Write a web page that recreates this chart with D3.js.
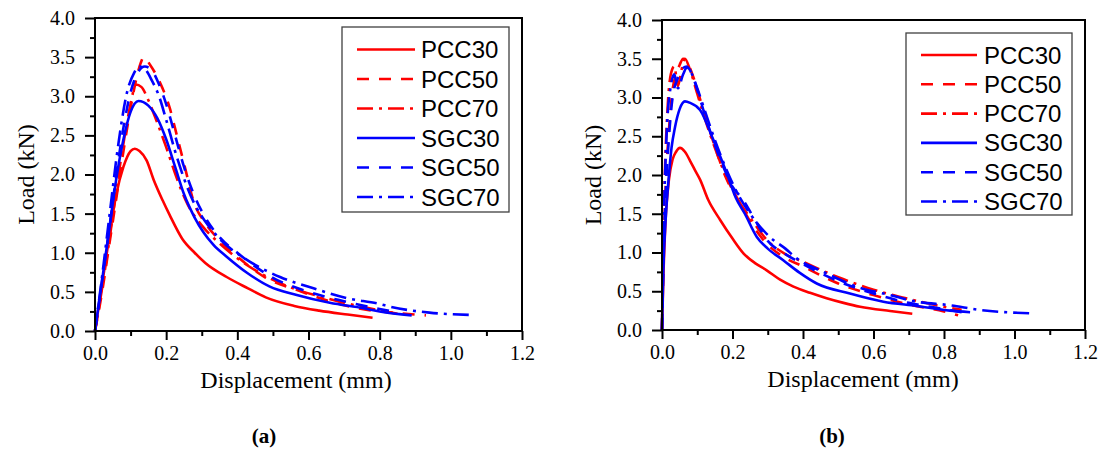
<!DOCTYPE html>
<html>
<head>
  <title>Load-displacement curves</title>
  <script src="https://d3js.org/d3.v7.min.js"></script>
  <style>
    body { margin: 0; background: #fff; }
  </style>
</head>
<body>
<svg id="chart" width="1102" height="450"></svg>
<script>

// ---- data ----
const seriesNames = ["PCC30", "PCC50", "PCC70", "SGC30", "SGC50", "SGC70"];
const xTicks = [0, 0.2, 0.4, 0.6, 0.8, 1.0, 1.2];
const yTicks = [0, 0.5, 1.0, 1.5, 2.0, 2.5, 3.0, 3.5, 4.0];

// panel (a)
const pcc30A = [[0,0],[0.02,0.6],[0.04,1.2],[0.06,1.75],[0.08,2.1],[0.1,2.3],[0.112,2.33],[0.125,2.3],[0.145,2.18],[0.165,1.93],[0.19,1.67],[0.21,1.48],[0.245,1.18],[0.28,1.0],[0.31,0.87],[0.37,0.69],[0.43,0.545],[0.48,0.43],[0.56,0.32],[0.63,0.26],[0.71,0.21],[0.78,0.17]];
const pcc50A = [[0,0],[0.02,0.5],[0.04,1.1],[0.06,1.7],[0.08,2.3],[0.1,2.85],[0.115,3.2],[0.128,3.42],[0.137,3.5],[0.155,3.4],[0.18,3.2],[0.21,2.85],[0.23,2.5],[0.255,2.05],[0.276,1.67],[0.31,1.38],[0.35,1.16],[0.4,0.95],[0.48,0.68],[0.57,0.52],[0.66,0.38],[0.75,0.28],[0.85,0.23],[0.93,0.2]];
const pcc70A = [[0,0],[0.02,0.55],[0.04,1.15],[0.06,1.8],[0.08,2.4],[0.1,2.9],[0.115,3.15],[0.13,3.12],[0.15,2.95],[0.17,2.72],[0.2,2.35],[0.23,1.95],[0.26,1.62],[0.3,1.35],[0.35,1.12],[0.4,0.93],[0.48,0.7],[0.56,0.54],[0.65,0.42],[0.74,0.32],[0.85,0.22]];
const sgc30A = [[0,0],[0.02,0.65],[0.04,1.3],[0.06,1.95],[0.08,2.45],[0.1,2.8],[0.122,2.94],[0.15,2.88],[0.175,2.72],[0.2,2.45],[0.225,2.1],[0.25,1.75],[0.28,1.45],[0.333,1.1],[0.37,0.95],[0.427,0.745],[0.49,0.57],[0.567,0.46],[0.66,0.36],[0.755,0.29],[0.8,0.25],[0.89,0.2]];
const sgc50A = [[0,0],[0.02,0.65],[0.04,1.3],[0.06,2.0],[0.08,2.6],[0.1,3.05],[0.12,3.3],[0.14,3.38],[0.16,3.33],[0.18,3.15],[0.2,2.9],[0.225,2.5],[0.25,2.1],[0.28,1.72],[0.31,1.45],[0.35,1.2],[0.4,1.0],[0.5,0.68],[0.6,0.5],[0.7,0.38],[0.8,0.28],[0.85,0.24]];
const sgc70A = [[0,0],[0.02,0.7],[0.04,1.45],[0.066,2.4],[0.09,3.05],[0.11,3.3],[0.125,3.38],[0.14,3.35],[0.16,3.2],[0.18,3.0],[0.2,2.7],[0.225,2.3],[0.25,1.95],[0.28,1.62],[0.31,1.4],[0.35,1.18],[0.427,0.91],[0.52,0.69],[0.614,0.545],[0.708,0.42],[0.8,0.345],[0.83,0.31],[0.94,0.235],[1.055,0.205]];

// panel (b)
const pcc30B = [[0,0],[0.004,0.7],[0.01,1.4],[0.02,1.95],[0.03,2.2],[0.04,2.3],[0.051,2.35],[0.065,2.3],[0.08,2.18],[0.095,2.05],[0.108,1.94],[0.131,1.68],[0.165,1.42],[0.2,1.18],[0.231,0.99],[0.265,0.86],[0.297,0.77],[0.335,0.65],[0.373,0.56],[0.42,0.48],[0.467,0.41],[0.515,0.35],[0.562,0.3],[0.647,0.245],[0.71,0.21]];
const pcc50B = [[0,0],[0.004,0.9],[0.01,1.8],[0.02,2.6],[0.03,3.1],[0.04,3.3],[0.05,3.42],[0.06,3.5],[0.075,3.42],[0.09,3.25],[0.11,2.95],[0.13,2.65],[0.155,2.3],[0.18,1.98],[0.216,1.68],[0.25,1.4],[0.3,1.1],[0.35,0.93],[0.4,0.82],[0.5,0.6],[0.6,0.45],[0.7,0.33],[0.8,0.24],[0.84,0.19]];
const pcc70B = [[0,0],[0.003,1.0],[0.008,2.0],[0.015,2.8],[0.025,3.3],[0.035,3.4],[0.045,3.15],[0.055,3.35],[0.065,3.5],[0.08,3.35],[0.1,3.05],[0.12,2.75],[0.15,2.35],[0.18,2.0],[0.21,1.72],[0.25,1.45],[0.3,1.15],[0.35,0.98],[0.4,0.88],[0.5,0.68],[0.6,0.52],[0.7,0.4],[0.8,0.3],[0.85,0.26]];
const sgc30B = [[0,0],[0.004,0.8],[0.01,1.4],[0.017,1.85],[0.027,2.35],[0.037,2.62],[0.05,2.85],[0.065,2.95],[0.08,2.93],[0.108,2.84],[0.146,2.45],[0.184,2.02],[0.21,1.7],[0.235,1.5],[0.269,1.2],[0.3,1.05],[0.344,0.9],[0.39,0.74],[0.439,0.6],[0.533,0.47],[0.628,0.365],[0.722,0.31],[0.817,0.25],[0.874,0.23]];
const sgc50B = [[0,0],[0.004,0.9],[0.01,1.7],[0.02,2.5],[0.03,3.0],[0.045,3.25],[0.06,3.38],[0.07,3.4],[0.085,3.3],[0.1,3.1],[0.12,2.8],[0.145,2.45],[0.17,2.15],[0.2,1.85],[0.23,1.68],[0.26,1.45],[0.3,1.15],[0.35,0.98],[0.4,0.85],[0.5,0.63],[0.6,0.47],[0.7,0.35],[0.8,0.27],[0.85,0.23]];
const sgc70B = [[0,0],[0.003,1.0],[0.008,1.9],[0.015,2.7],[0.025,3.15],[0.035,3.3],[0.045,3.12],[0.06,3.3],[0.07,3.38],[0.085,3.3],[0.1,3.12],[0.12,2.85],[0.15,2.45],[0.18,2.1],[0.21,1.8],[0.25,1.5],[0.306,1.2],[0.35,1.05],[0.382,0.925],[0.458,0.75],[0.552,0.56],[0.647,0.45],[0.722,0.365],[0.817,0.32],[0.9,0.26],[1.044,0.215]];

// ---- styles ----
const colors = ["#ff0000", "#ff0000", "#ff0000", "#0000ff", "#0000ff", "#0000ff"];
const dashes = [null, "12,10", "16,6,3,6", null, "12,10", "16,6,3,6"];
const serif = "'Liberation Serif', 'Times New Roman', serif";
const sans = "'Liberation Sans', Arial, sans-serif";

const svg = d3.select("#chart");

function drawPanel(opts) {
  const x = d3.scaleLinear().domain([0, 1.2]).range([opts.left, opts.right]);
  const y = d3.scaleLinear().domain([0, 4]).range([opts.bottom, opts.top]);
  const g = svg.append("g");

  // curves
  const line = d3.line()
    .x(d => x(d[0]))
    .y(d => y(d[1]))
    .curve(d3.curveMonotoneX);

  opts.series.forEach((s, i) => {
    g.append("path")
      .attr("d", line(s))
      .attr("fill", "none")
      .attr("stroke", colors[i])
      .attr("stroke-width", 2.6)
      .attr("stroke-dasharray", dashes[i]);
  });

  // axes
  const xAxis = d3.axisBottom(x).tickValues(xTicks).tickSize(9).tickPadding(6)
    .tickFormat(d3.format(".1f"));
  const xMinor = d3.axisBottom(x).tickValues(d3.range(0.1, 1.2, 0.2)).tickSize(5).tickFormat("");
  const yAxis = d3.axisLeft(y).tickValues(yTicks).tickSize(10).tickPadding(10)
    .tickFormat(d3.format(".1f"));
  const yMinor = d3.axisLeft(y).tickValues(d3.range(0.25, 4, 0.5)).tickSize(5).tickFormat("");

  g.append("g").attr("transform", `translate(0,${opts.bottom})`).call(xAxis)
    .attr("font-family", serif).attr("font-size", 20);
  g.append("g").attr("transform", `translate(0,${opts.bottom})`).call(xMinor);
  g.append("g").attr("transform", `translate(${opts.left},0)`).call(yAxis)
    .attr("font-family", serif).attr("font-size", 20);
  g.append("g").attr("transform", `translate(${opts.left},0)`).call(yMinor);

  g.selectAll(".domain").remove();
  g.selectAll(".tick line").attr("stroke", "#000").attr("stroke-width", 2);
  g.selectAll(".tick text").attr("fill", "#000");

  // frame
  g.append("rect")
    .attr("x", opts.left).attr("y", opts.top)
    .attr("width", opts.right - opts.left).attr("height", opts.bottom - opts.top)
    .attr("fill", "none").attr("stroke", "#000").attr("stroke-width", 2);

  // axis titles
  g.append("text")
    .attr("font-family", serif).attr("font-size", 24)
    .attr("x", opts.xTitleX).attr("y", opts.bottom + 57)
    .attr("text-anchor", "middle").text("Displacement (mm)");
  g.append("text")
    .attr("font-family", serif).attr("font-size", 24)
    .attr("transform", `translate(${opts.left - 61},${(opts.top + opts.bottom) / 2}) rotate(-90)`)
    .attr("text-anchor", "middle").text("Load (kN)");

  // legend
  const lg = opts.legend;
  g.append("rect")
    .attr("x", lg.x).attr("y", lg.y).attr("width", lg.w).attr("height", lg.h)
    .attr("fill", "#fff").attr("stroke", "#404040").attr("stroke-width", 1.3);
  seriesNames.forEach((name, i) => {
    const cy = lg.row0 + i * lg.step;
    g.append("line")
      .attr("x1", lg.lineX1).attr("x2", lg.lineX2).attr("y1", cy).attr("y2", cy)
      .attr("stroke", colors[i]).attr("stroke-width", 2.6)
      .attr("stroke-dasharray", dashes[i]);
    g.append("text")
      .attr("font-family", sans).attr("font-size", 24)
      .attr("x", lg.textX).attr("y", cy + 8.5).text(name);
  });

  // caption
  g.append("text")
    .attr("font-family", serif).attr("font-size", 21).attr("font-weight", "bold")
    .attr("x", opts.captionX).attr("y", 443)
    .attr("text-anchor", "middle").text(opts.caption);
}

drawPanel({
  left: 95, right: 522, top: 18, bottom: 331,
  series: [pcc30A, pcc50A, pcc70A, sgc30A, sgc50A, sgc70A],
  xTitleX: 296, captionX: 264, caption: "(a)",
  legend: { x: 342, y: 27, w: 167, h: 185, row0: 49.5, step: 29.5, lineX1: 357, lineX2: 415, textX: 421 }
});

drawPanel({
  left: 662, right: 1085, top: 20, bottom: 330,
  series: [pcc30B, pcc50B, pcc70B, sgc30B, sgc50B, sgc70B],
  xTitleX: 863, captionX: 832, caption: "(b)",
  legend: { x: 906, y: 33, w: 166, h: 182, row0: 55, step: 29.3, lineX1: 921, lineX2: 977, textX: 984 }
});

</script>
</body>
</html>
